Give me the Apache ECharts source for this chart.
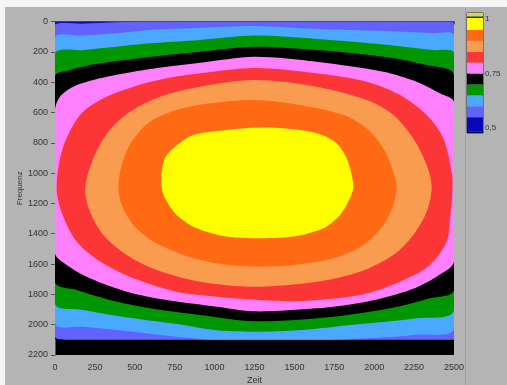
<!DOCTYPE html>
<html>
<head>
<meta charset="utf-8">
<script src="https://cdn.jsdelivr.net/npm/echarts@6/dist/echarts.min.js"></script>
<style>
  html, body { margin: 0; padding: 0; background: #f4f4f4; }
  #chart { width: 507px; height: 385px; }
</style>
</head>
<body>
<div id="chart"></div>
<script>
// contour regions (Zeit, Frequenz), each one is "value above level"
const baseArea = [[0, 0], [2500, 0], [2500, 2100], [0, 2100]]
const violetArea = [[0, 23], [178, 14], [386, 5], [595, 0], [2433, 0], [2500, 12], [2500, 2100], [100, 2100], [0, 2080]]
const lightBlueArea = [[0, 111], [178, 93], [386, 78], [595, 56], [909, 41], [1250, 30], [1640, 49], [2057, 63], [2371, 78], [2500, 93],
  [2500, 2024], [2266, 2066], [1953, 2090], [1700, 2100], [1000, 2100], [804, 2085], [491, 2046], [178, 2013], [0, 1991]]
const greenArea = [[0, 216], [178, 188], [386, 166], [595, 144], [909, 122], [1250, 93], [1640, 115], [2057, 151], [2371, 188], [2500, 210],
  [2500, 1903], [2266, 1958], [1849, 2002], [1550, 2035], [1250, 2046], [1000, 2035], [804, 2002], [491, 1958], [178, 1903], [0, 1859]]
const blackArea = [[0, 364], [94, 320], [282, 276], [491, 247], [700, 221], [909, 199], [1250, 166], [1640, 188], [2057, 232], [2329, 287], [2500, 353],
  [2500, 1771], [2350, 1826], [2099, 1892], [1744, 1947], [1250, 1978], [909, 1936], [595, 1892], [345, 1837], [136, 1771], [0, 1716]]
const pinkArea = [[0, 584], [31, 496], [115, 430], [282, 375], [491, 331], [700, 298], [909, 272], [1250, 232], [1640, 265], [2057, 331], [2266, 397], [2412, 474], [2500, 533],
  [2500, 1584], [2391, 1683], [2224, 1771], [1953, 1848], [1640, 1892], [1250, 1912], [1013, 1881], [700, 1837], [449, 1782], [219, 1694], [73, 1606], [0, 1529]]
const redArea = [[10, 1100], [48, 837], [157, 617], [303, 507], [491, 430], [700, 375], [909, 342], [1250, 307], [1640, 342], [1953, 397], [2162, 485], [2329, 617], [2433, 771],
  [2486, 1000], [2490, 1111], [2475, 1298], [2454, 1452], [2350, 1606], [2162, 1716], [1911, 1804], [1535, 1844], [1250, 1835], [1013, 1815], [762, 1782], [491, 1694], [282, 1584], [136, 1452], [48, 1276]]
const lightOrangeArea = [[188, 1100], [240, 903], [334, 727], [470, 595], [658, 496], [909, 430], [1250, 386], [1640, 430], [1953, 518], [2120, 617], [2245, 771], [2329, 947],
  [2360, 1095], [2329, 1254], [2245, 1408], [2120, 1540], [1911, 1650], [1640, 1716], [1250, 1749], [909, 1716], [637, 1639], [449, 1540], [303, 1408], [219, 1254]]
const darkOrangeArea = [[397, 1095], [418, 946], [480, 793], [595, 661], [762, 584], [971, 540], [1250, 518], [1535, 551], [1807, 617], [1953, 705], [2057, 837], [2120, 991],
  [2141, 1095], [2120, 1210], [2057, 1342], [1932, 1474], [1744, 1562], [1493, 1606], [1250, 1617], [1013, 1595], [804, 1540], [616, 1452], [491, 1342], [418, 1210]]
const yellowArea = [[668, 1000], [689, 900], [752, 826], [867, 749], [1076, 716], [1284, 700], [1431, 705], [1640, 738], [1765, 804], [1828, 903], [1859, 1012],
  [1869, 1100], [1848, 1166], [1786, 1276], [1681, 1364], [1493, 1419], [1250, 1430], [1076, 1419], [888, 1364], [762, 1276], [689, 1166], [668, 1090]]

const areas = [baseArea, violetArea, lightBlueArea, greenArea, blackArea, pinkArea, redArea, lightOrangeArea, darkOrangeArea, yellowArea]
const areaColors = ['#0808b8', '#6262ff', '#4ba8ff', '#009600', '#000000', '#ff80ff', '#fc3636', '#f99c50', '#ff6a12', '#ffff00']

// colour scale pieces [from, to, colour]
const scalePieces = [
  [0.4775, 0.485, '#000040'],
  [0.485, 0.55, '#0808b8'],
  [0.55, 0.6, '#6262ff'],
  [0.6, 0.65, '#4ba8ff'],
  [0.65, 0.7, '#009600'],
  [0.7, 0.75, '#000000'],
  [0.75, 0.8, '#ff80ff'],
  [0.8, 0.85, '#fc3636'],
  [0.85, 0.9, '#f99c50'],
  [0.9, 0.95, '#ff6a12'],
  [0.95, 1.005, '#ffff00'],
  [1.005, 1.012, '#202000'],
  [1.012, 1.0275, '#d8d850'],
]
const scaleTicks = [0.5, 0.75, 1]

const chart = echarts.init(document.getElementById('chart'))
const labelFont = { fontFamily: 'Liberation Sans', fontSize: 9, color: '#333' }

chart.setOption({
  backgroundColor: '#f4f4f4',
  animation: false,
  graphic: [
    { type: 'rect', z: -10, shape: { x: 5, y: 7, width: 502, height: 378 }, style: { fill: '#b4b4b4' } },
    { type: 'line', z: -9, shape: { x1: 465.5, y1: 7, x2: 465.5, y2: 385 }, style: { stroke: '#a2a2a2', lineWidth: 1 } },
  ],
  grid: [
    { left: 55, top: 21.5, width: 399, height: 333.5, outerBoundsMode: 'none', containLabel: false,
      show: true, backgroundColor: '#000', borderWidth: 0 },
    { left: 467, top: 13, width: 16, height: 120, outerBoundsMode: 'none', containLabel: false,
      show: true, borderColor: '#333', borderWidth: 1 },
  ],
  xAxis: [
    {
      gridIndex: 0, type: 'value', min: 0, max: 2500, interval: 250,
      name: 'Zeit', nameLocation: 'middle', nameGap: 21, nameMoveOverlap: false,
      nameTextStyle: labelFont,
      axisLine: { lineStyle: { color: '#555' } },
      axisTick: { length: 3, lineStyle: { color: '#555' } },
      axisLabel: { ...labelFont, margin: 8, formatter: (v) => String(v) },
      splitLine: { show: false },
    },
    { gridIndex: 1, type: 'value', min: 0, max: 1, show: false },
  ],
  yAxis: [
    {
      gridIndex: 0, type: 'value', min: 0, max: 2200, interval: 200, inverse: true,
      name: 'Frequenz', nameLocation: 'middle', nameGap: 31, nameMoveOverlap: false,
      nameTextStyle: { ...labelFont, fontSize: 8 },
      axisLine: { show: true, lineStyle: { color: '#555' } },
      axisTick: { show: true, length: 4, lineStyle: { color: '#555' } },
      axisLabel: { ...labelFont, margin: 7, formatter: (v) => String(v) },
      splitLine: { show: false },
    },
    {
      gridIndex: 1, type: 'value', min: 0.4775, max: 1.0275, position: 'right',
      axisLine: { show: false },
      axisTick: { show: true, length: 3, customValues: scaleTicks, lineStyle: { color: '#333' } },
      axisLabel: { ...labelFont, fontSize: 8, margin: 2, customValues: scaleTicks,
        formatter: (v) => String(v).replace('.', ',') },
      splitLine: { show: false },
    },
  ],
  series: [
    {
      type: 'custom',
      xAxisIndex: 0, yAxisIndex: 0,
      clip: true,
      data: areas.map((a, i) => [i]),
      renderItem: (params, api) => {
        const pts = areas[params.dataIndex].map((p) => api.coord(p))
        const tl = api.coord([0, 0])
        const br = api.coord([2500, 2100])
        return {
          type: 'polygon',
          shape: { points: pts, smooth: 0.3, smoothConstraint: [tl, br] },
          style: { fill: areaColors[params.dataIndex] },
        }
      },
    },
    {
      type: 'custom',
      xAxisIndex: 1, yAxisIndex: 1,
      data: scalePieces.map((p, i) => [i]),
      renderItem: (params, api) => {
        const p = scalePieces[params.dataIndex]
        const a = api.coord([0, p[1]])
        const b = api.coord([1, p[0]])
        return {
          type: 'rect',
          shape: { x: a[0], y: a[1], width: b[0] - a[0], height: b[1] - a[1] },
          style: { fill: p[2] },
        }
      },
    },
  ],
})
</script>
</body>
</html>
